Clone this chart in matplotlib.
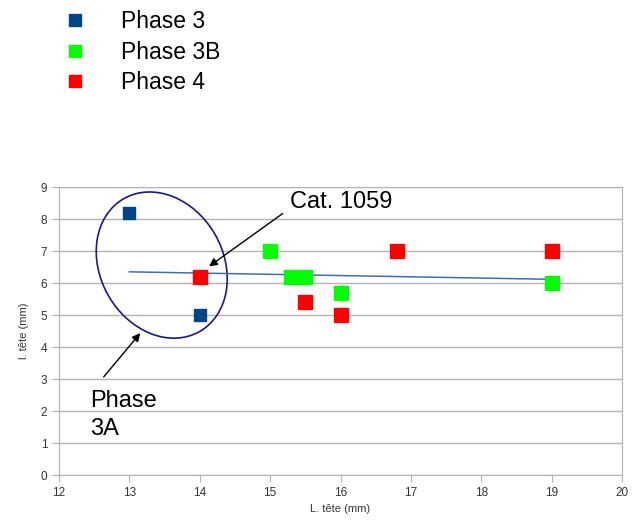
import numpy as np
import matplotlib
matplotlib.use('Agg')
import matplotlib.pyplot as plt
from matplotlib.patches import Ellipse
from matplotlib.lines import Line2D
from matplotlib.transforms import ScaledTranslation

plt.rcParams['font.family'] = ['Liberation Sans', 'DejaVu Sans']

# data
p3_x = [13, 14]
p3_y = [8.2, 5.0]
p3b_x = [15, 15.3, 15.5, 16, 19]
p3b_y = [7.0, 6.2, 6.2, 5.7, 6.0]
p4_x = [14, 15.5, 16, 16.8, 19]
p4_y = [6.2, 5.4, 5.0, 7.0, 7.0]
series_labels = ['Phase 3', 'Phase 3B', 'Phase 4']
colors = ['#004586', '#00ff00', '#ff0000']

fig = plt.figure(figsize=(6.33, 5.21), dpi=100)
ax = fig.add_axes([59 / 633, 46 / 521, 563 / 633, 288 / 521])

# linear trend over all points
all_x = np.array(p3_x + p3b_x + p4_x)
all_y = np.array(p3_y + p3b_y + p4_y)
slope, icpt = np.polyfit(all_x, all_y, 1)
tx = np.array([all_x.min(), all_x.max()])
ax.plot(tx, slope * tx + icpt, color='#3f6fa8', lw=1.1, zorder=2)

ax.plot(p3_x, p3_y, 's', color=colors[0], ms=8, zorder=3)
ax.plot(p3b_x, p3b_y, 's', color=colors[1], ms=9.5, zorder=3)
ax.plot(p4_x, p4_y, 's', color=colors[2], ms=9.5, zorder=3)

ax.set_xlim(12, 20)
ax.set_ylim(0, 9)
ax.set_xticks(range(12, 21))
ax.set_yticks(range(0, 10))
ax.grid(axis='y', color='#b3b3b3', lw=1)
ax.set_axisbelow(True)
for s in ax.spines.values():
    s.set_color('#b3b3b3')
ax.tick_params(colors='#b3b3b3', labelcolor='#333333', labelsize=8.5, length=5)
ax.set_xlabel('L. tête (mm)', fontsize=8, color='#333333', labelpad=4)
ax.set_ylabel('l. tête (mm)', fontsize=8, color='#333333', labelpad=8)

# ellipse around phase 3A (size in pixels, centre in data units)
ell = Ellipse((0, 0), 153, 123, angle=119.7, fill=False, ec='#1a1a80', lw=1.2,
              transform=ScaledTranslation(13.46, 6.56, ax.transData), clip_on=False)
ax.add_patch(ell)

ax.annotate('', xy=(14.1, 6.47), xytext=(15.21, 8.22),
            arrowprops=dict(arrowstyle='-|>', color='black', lw=1, mutation_scale=12))
ax.text(15.28, 8.34, 'Cat. 1059', fontsize=17, va='baseline', ha='left')

ax.annotate('', xy=(13.18, 4.5), xytext=(12.61, 3.0),
            arrowprops=dict(arrowstyle='-|>', color='black', lw=1, mutation_scale=12))
ax.text(12.44, 2.66, 'Phase\n3A', fontsize=17, va='top', ha='left', linespacing=1.35)

handles = [Line2D([], [], marker='s', ls='', color=c, ms=8.8) for c in colors]
fig.legend(handles, series_labels, loc='upper left', bbox_to_anchor=(64 / 633, 1 - 10 / 521),
           frameon=False, fontsize=16.5, handlelength=1, handletextpad=1.5,
           labelspacing=0.33, borderaxespad=0, borderpad=0)

fig.savefig('out.png', dpi=100)
